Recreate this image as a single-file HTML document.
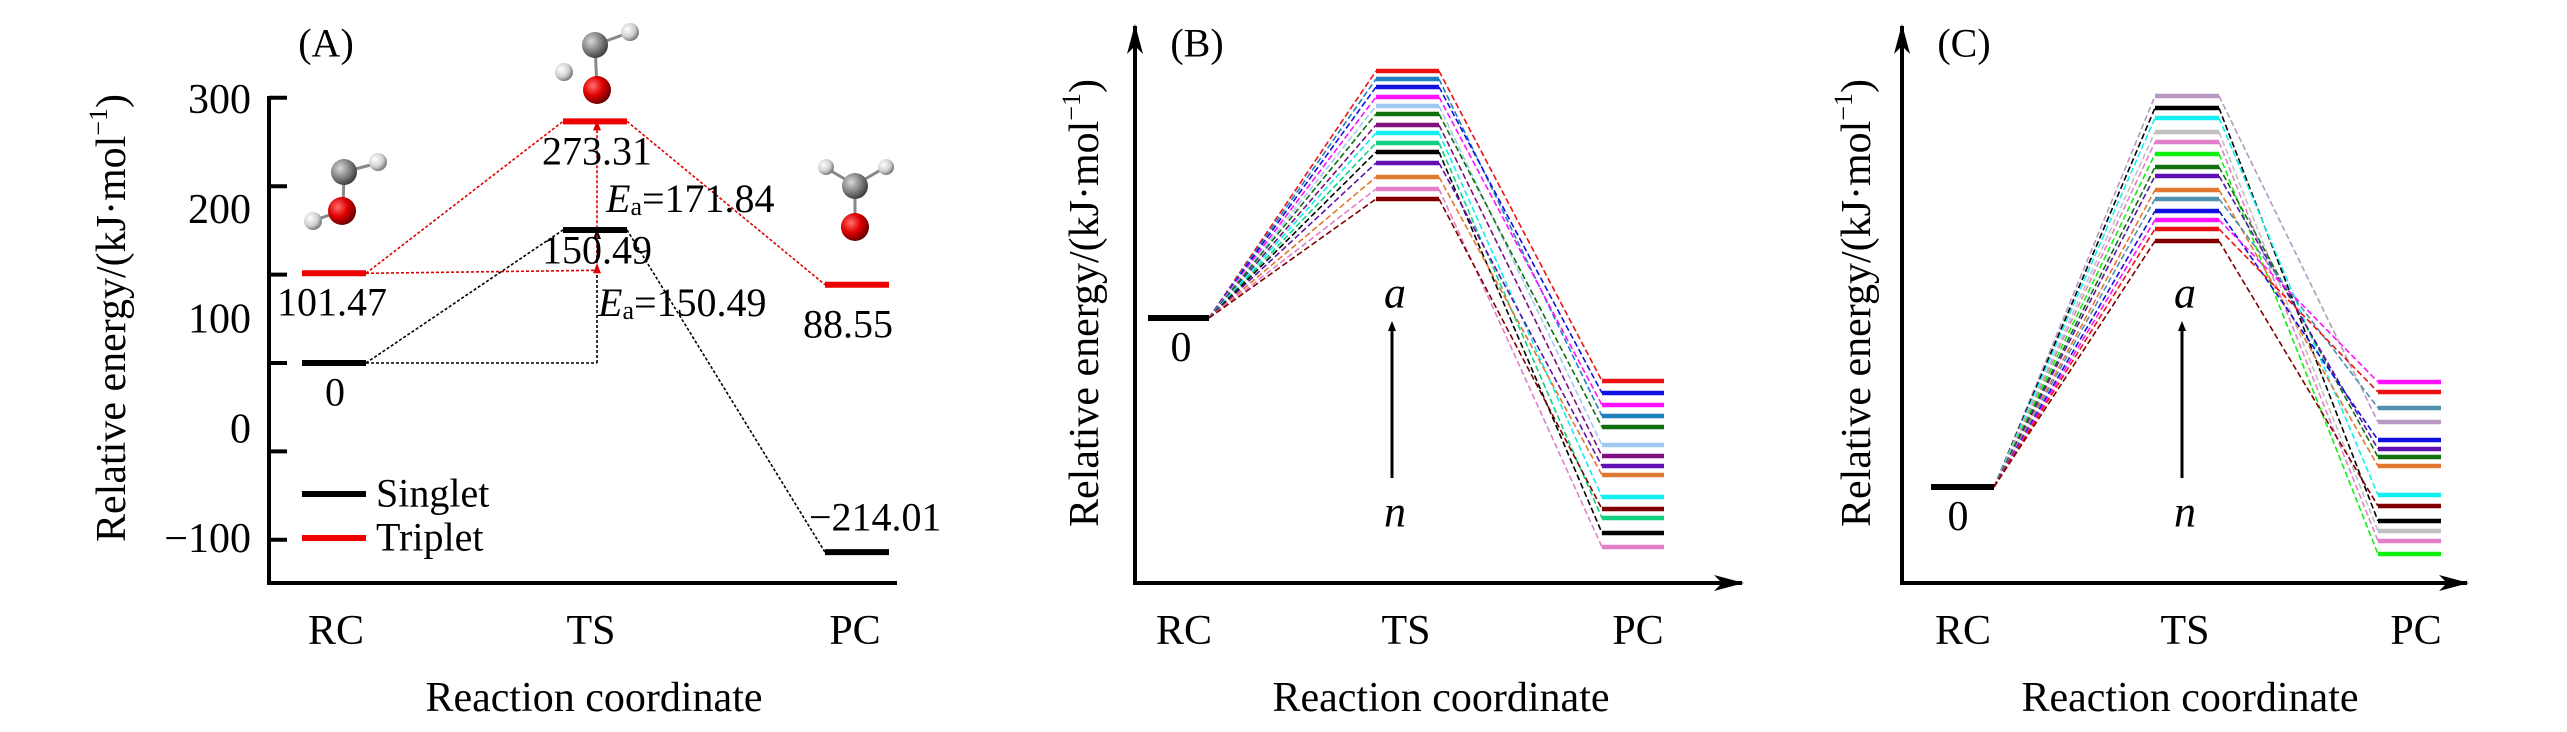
<!DOCTYPE html>
<html><head><meta charset="utf-8">
<style>
html,body{margin:0;padding:0;background:#fff;}
svg{display:block;font-family:"Liberation Serif",serif;}
</style></head>
<body>
<svg id="fig" width="2567" height="732" viewBox="0 0 2567 732" xmlns="http://www.w3.org/2000/svg">
<defs>
<radialGradient id="gC" cx="35%" cy="35%" r="70%"><stop offset="0" stop-color="#d8d8d8"/><stop offset="0.5" stop-color="#8a8a8a"/><stop offset="1" stop-color="#3a3a3a"/></radialGradient>
<radialGradient id="gO" cx="35%" cy="35%" r="70%"><stop offset="0" stop-color="#ff7070"/><stop offset="0.5" stop-color="#e00000"/><stop offset="1" stop-color="#600000"/></radialGradient>
<radialGradient id="gH" cx="35%" cy="35%" r="70%"><stop offset="0" stop-color="#ffffff"/><stop offset="0.6" stop-color="#d0d0d0"/><stop offset="1" stop-color="#707070"/></radialGradient>
<marker id="arr" markerWidth="10" markerHeight="10" refX="5" refY="5" orient="auto" markerUnits="userSpaceOnUse"><path d="M0,1 L10,5 L0,9 z" fill="#000"/></marker>
<marker id="arrBig" markerWidth="30" markerHeight="20" refX="28" refY="10" orient="auto" markerUnits="userSpaceOnUse"><path d="M0,2 L30,10 L0,18 L8,10 z" fill="#000"/></marker>
<marker id="arrR" markerWidth="10" markerHeight="10" refX="5" refY="5" orient="auto" markerUnits="userSpaceOnUse"><path d="M0,1 L10,5 L0,9 z" fill="#e00000"/></marker>
</defs>
</svg>
<script>
// ---------- Panel A data ----------
const aStates = ["RC","TS","PC"];
const aSinglet = [0, 150.49, -214.01];
const aTriplet = [101.47, 273.31, 88.55];
const aSingletLabels = ["0","150.49","\u2212214.01"];
const aTripletLabels = ["101.47","273.31","88.55"];
const aTicks = [300,200,100,0,-100,-200];
const aTickLabels = ["300","200","100","0","\u2212100"];
// ---------- Panel B data ----------
const bColors = ["#ee1111","#1f7fbf","#1010e0","#ff10ff","#a0c8f0","#107010","#801080","#10f0f0","#10d080","#000000","#6010b0","#e07830","#e080c8","#800000"];
const bTS = [247,239,231,221,212,204,193,185,175,166,155,141,129,119];
const bPC = [-63,-98,-75,-87,-127,-109,-138,-179,-200,-215,-148,-157,-229,-191];
// ---------- Panel C data ----------
const cColors = ["#b898c0","#000000","#10f0f0","#c0c0c0","#e080c8","#10f010","#107010","#6010b0","#e07830","#5090b0","#1010e0","#ff10ff","#ee1111","#800000"];
const cTS = [391,379,369,355,345,333,320,311,297,288,276,267,258,246];
const cPC = [65,-34,-8,-44,-54,-67,30,38,21,79,47,105,95,-19];

const svg = document.getElementById('fig');
const NS = "http://www.w3.org/2000/svg";
function mk(tag, attrs, parent){
  const e = document.createElementNS(NS, tag);
  for (const k in attrs) e.setAttribute(k, attrs[k]);
  (parent||svg).appendChild(e);
  return e;
}
function txt(s, x, y, size, anchor, parent, extra){
  const t = mk('text', Object.assign({x:x, y:y, 'font-size':size, 'text-anchor':anchor||'middle', 'dominant-baseline':'central', fill:'#000'}, extra||{}), parent);
  t.textContent = s;
  return t;
}

// ================= Panel A =================
const gA = mk('g', {});


const yA = e => 363 - e * 0.884;
const aLevelX = [[302,366],[563,627],[825,889]];
// axes
let el = mk('line', {x1:269, y1:96, x2:269, y2:584, stroke:'#000','stroke-width':4}, gA);


el = mk('line', {x1:267, y1:583, x2:897, y2:583, stroke:'#000','stroke-width':4}, gA);


aTicks.forEach((v,i)=>{
  const t = mk('line', {x1:269, y1:yA(v), x2:287, y2:yA(v), stroke:'#000','stroke-width':4}, gA);
  
  
});
aTickLabels.forEach((s,i)=>{
  const t = txt(s, 251, 100 + i*109.8, 42, 'end', gA);
  
  
});
// connectors
function conn(arr, color, g){
  for (let i=0;i<arr.length-1;i++){
    const c = mk('line', {x1:aLevelX[i][1], y1:yA(arr[i]), x2:aLevelX[i+1][0], y2:yA(arr[i+1]), stroke:color,'stroke-width':1.6,'stroke-dasharray':'3,2'}, g);
    
    
  }
}
conn(aSinglet, '#000', gA);
conn(aTriplet, '#e00000', gA);
// Ea arrows
const eaX = 597;
el = mk('polyline', {points:`${aLevelX[0][1]},${yA(aSinglet[0])} ${eaX},${yA(aSinglet[0])}`, fill:'none', stroke:'#000','stroke-width':1.6,'stroke-dasharray':'3,2'}, gA);


el = mk('line', {x1:eaX, y1:yA(aSinglet[0]), x2:eaX, y2:yA(aSinglet[1])+4, stroke:'#000','stroke-width':1.6,'stroke-dasharray':'3,2','marker-end':'url(#arr)'}, gA);


el = mk('line', {x1:aLevelX[0][1], y1:yA(aTriplet[0]), x2:eaX, y2:yA(aTriplet[0])-3, stroke:'#e00000','stroke-width':1.6,'stroke-dasharray':'3,2'}, gA);


el = mk('line', {x1:eaX, y1:yA(aTriplet[0])-5, x2:eaX, y2:yA(aTriplet[1])+4, stroke:'#e00000','stroke-width':1.6,'stroke-dasharray':'3,2','marker-end':'url(#arrR)','marker-start':'url(#arrR)'}, gA);


// levels
aSinglet.forEach((v,i)=>{
  const l = mk('line', {x1:aLevelX[i][0], y1:yA(v), x2:aLevelX[i][1], y2:yA(v), stroke:'#000','stroke-width':6}, gA);
  
  
});
aTriplet.forEach((v,i)=>{
  const l = mk('line', {x1:aLevelX[i][0], y1:yA(v), x2:aLevelX[i][1], y2:yA(v), stroke:'#ee0000','stroke-width':6}, gA);
  
  
});
// value labels
const sLabPos = [[335,392,'middle'],[597,250,'middle'],[809,517,'start']];
const tLabPos = [[332,302,'middle'],[597,151,'middle'],[848,324,'middle']];
aSingletLabels.forEach((s,i)=>{
  const t = txt(s, sLabPos[i][0], sLabPos[i][1], 40, sLabPos[i][2], gA);
  
  
});
aTripletLabels.forEach((s,i)=>{
  const t = txt(s, tLabPos[i][0], tLabPos[i][1], 40, tLabPos[i][2], gA);
  
  
});
function eaLabel(val, x, y){
  const t = mk('text', {x:x, y:y, 'font-size':40, 'dominant-baseline':'central'}, gA);
  
  
  const a = mk('tspan', {'font-style':'italic'}, t); a.textContent = 'E';
  const b = mk('tspan', {'font-size':26, dy:8}, t); b.textContent = 'a';
  const c = mk('tspan', {dy:-8}, t); c.textContent = '=' + val;
}
eaLabel('171.84', 606, 198);
eaLabel('150.49', 598, 302);
// legend
el = mk('line', {x1:302, y1:494, x2:366, y2:494, stroke:'#000','stroke-width':6}, gA);


el = txt('Singlet', 376, 493, 40, 'start', gA);


el = mk('line', {x1:302, y1:538, x2:366, y2:538, stroke:'#ee0000','stroke-width':6}, gA);


el = txt('Triplet', 376, 537, 40, 'start', gA);


// molecules
function atom(x,y,r,g,parent){ return mk('circle',{cx:x,cy:y,r:r,fill:'url(#'+g+')'},parent); }
function bond(x1,y1,x2,y2,parent){ return mk('line',{x1:x1,y1:y1,x2:x2,y2:y2,stroke:'#888','stroke-width':3},parent); }
let m = mk('g', {}, gA);


bond(344,172,378,163,m); bond(344,172,343,210,m); bond(343,210,313,221,m);
atom(378,162,9,'gH',m); atom(344,172,13,'gC',m); atom(313,221,9,'gH',m); atom(342,211,14,'gO',m);
m = mk('g', {}, gA);


bond(595,45,628,33,m); bond(595,45,597,88,m);
atom(630,32,9,'gH',m); atom(595,45,13,'gC',m); atom(564,72,9,'gH',m); atom(597,90,14,'gO',m);
m = mk('g', {}, gA);


bond(855,185,826,168,m); bond(855,185,884,168,m); bond(855,185,855,225,m);
atom(826,167,8,'gH',m); atom(886,167,8,'gH',m); atom(855,186,13,'gC',m); atom(855,227,14,'gO',m);
el = txt('(A)', 326, 43, 40, 'middle', gA);


el = txt('Relative energy/(kJ\u00b7mol', 0, 0, 42, 'middle', gA, {});
el.remove();
function yTitle(x, y, parent){
  const t = mk('text', {x:0, y:0, 'font-size':42, 'text-anchor':'middle', 'dominant-baseline':'central', transform:`translate(${x},${y}) rotate(-90)`}, parent);
  
  
  const a = mk('tspan', {}, t); a.textContent = 'Relative energy/(kJ\u00b7mol';
  const b = mk('tspan', {'font-size':26, dy:-14}, t); b.textContent = '\u22121';
  const c = mk('tspan', {dy:14}, t); c.textContent = ')';
}
yTitle(112, 318, gA);
function xLabels(xs, y, parent){
  ["RC","TS","PC"].forEach((s,i)=>{
    const t = txt(s, xs[i], y, 42, 'middle', parent);
    
    
  });
}
function xTitle(x, parent){
  const t = txt('Reaction coordinate', x, 698, 42, 'middle', parent);
  
  
}
xLabels([336,591,855], 631, gA);
xTitle(594, gA);

// ================= Panels B & C =================
function profilePanel(name, letter, cfg, colors, ts, pc){
  const g = mk('g', {});
  
  
  const y = e => cfg.y0 - e;
  let a = mk('line', {x1:cfg.ax, y1:583, x2:cfg.ax, y2:26, stroke:'#000','stroke-width':4,'marker-end':'url(#arrBig)'}, g);
  
  
  a = mk('line', {x1:cfg.ax-2, y1:583, x2:cfg.xEnd, y2:583, stroke:'#000','stroke-width':4,'marker-end':'url(#arrBig)'}, g);
  
  
  for (let i=0;i<ts.length;i++){
    let c = mk('line', {x1:cfg.rc[1], y1:y(0), x2:cfg.ts[0], y2:y(ts[i]), stroke:colors[i],'stroke-width':1.6,'stroke-dasharray':'6,3'}, g);
    
    
    c = mk('line', {x1:cfg.ts[1], y1:y(ts[i]), x2:cfg.pc[0], y2:y(pc[i]), stroke:colors[i],'stroke-width':1.6,'stroke-dasharray':'6,3'}, g);
    
    
  }
  for (let i=0;i<ts.length;i++){
    let l = mk('line', {x1:cfg.ts[0], y1:y(ts[i]), x2:cfg.ts[1], y2:y(ts[i]), stroke:colors[i],'stroke-width':4.5}, g);
    
    
    l = mk('line', {x1:cfg.pc[0], y1:y(pc[i]), x2:cfg.pc[1], y2:y(pc[i]), stroke:colors[i],'stroke-width':4.5}, g);
    
    
  }
  let r = mk('line', {x1:cfg.rc[0], y1:y(0), x2:cfg.rc[1], y2:y(0), stroke:'#000','stroke-width':6}, g);
  
  
  let t = txt('0', cfg.zeroX, y(0)+30, 42, 'middle', g);
  
  
  t = txt('('+letter+')', cfg.ax+62, 43, 40, 'middle', g);
  
  
  let ar = mk('line', {x1:cfg.arX, y1:478, x2:cfg.arX, y2:326, stroke:'#000','stroke-width':3,'marker-end':'url(#arr)'}, g);
  
  
  t = txt('a', cfg.arX+3, 293, 44, 'middle', g, {'font-style':'italic'});
  
  
  t = txt('n', cfg.arX+3, 512, 44, 'middle', g, {'font-style':'italic'});
  
  
  yTitle(cfg.titleX, 303, g);
  xLabels(cfg.xl, 631, g);
  xTitle(cfg.xt, g);
}
profilePanel('panel-b', 'B', {ax:1135, xEnd:1742, y0:318, rc:[1148,1209], ts:[1376,1439], pc:[1602,1664], zeroX:1181, arX:1392, titleX:1085, xl:[1184,1406,1638], xt:1441}, bColors, bTS, bPC);
profilePanel('panel-c', 'C', {ax:1902, xEnd:2467, y0:487, rc:[1931,1994], ts:[2155,2219], pc:[2378,2441], zeroX:1958, arX:2182, titleX:1857, xl:[1963,2185,2416], xt:2190}, cColors, cTS, cPC);
</script>
</body></html>
